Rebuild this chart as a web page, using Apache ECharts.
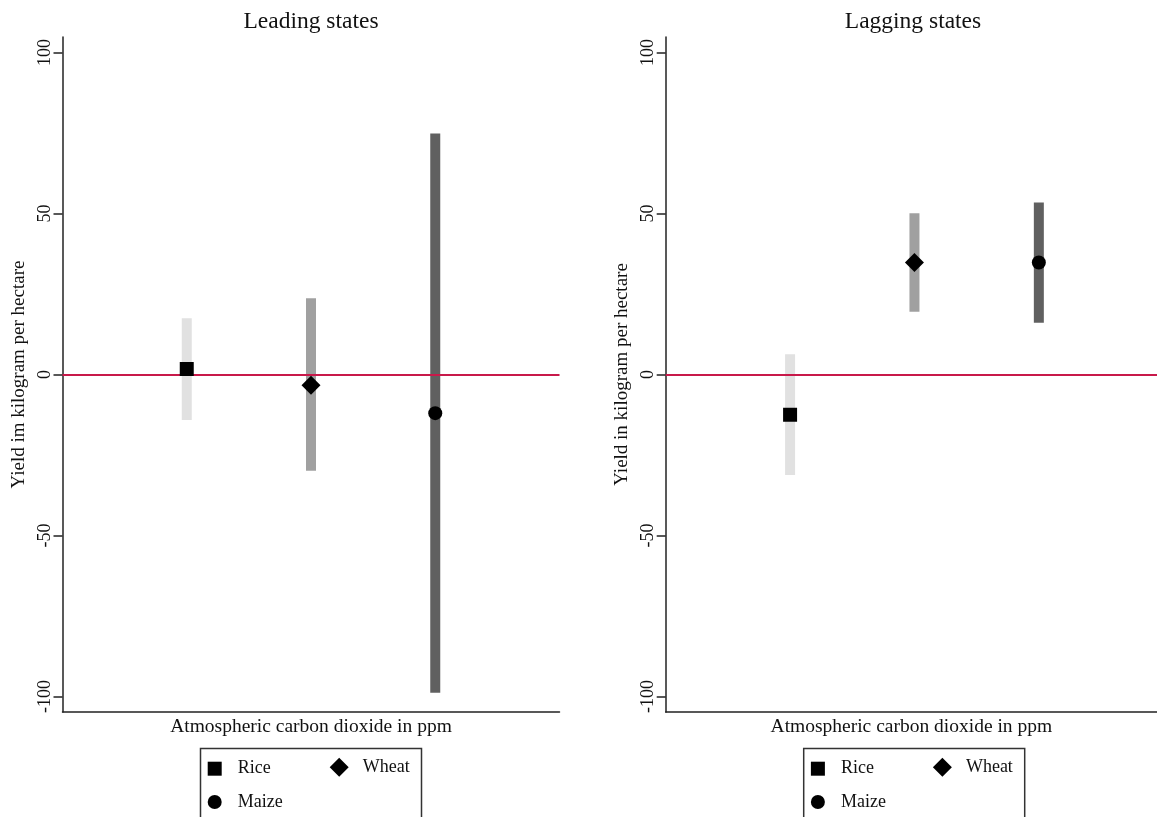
<!DOCTYPE html>
<html>
<head>
<meta charset="utf-8">
<script src="https://cdn.jsdelivr.net/npm/echarts@6/dist/echarts.min.js"></script>
<style>html,body{margin:0;padding:0;background:#fff}#c{width:1157px;height:817px}</style>
</head>
<body>
<div id="c"></div>
<script>
// ---- data ----
const categories = ['Rice', 'Wheat', 'Maize'];
const panelTitles = ['Leading states', 'Lagging states'];
const yNames = ['Yield im kilogram per hectare', 'Yield in kilogram per hectare'];
const xName = 'Atmospheric carbon dioxide in ppm';
const yTicks = [-100, -50, 0, 50, 100];
// Leading states
const leadEst = [1.7, -3.3, -12.0];
const leadLo = [-14.1, -29.9, -98.8];
const leadHi = [17.5, 23.7, 74.8];
// Lagging states
const lagEst = [-12.5, 34.8, 34.8];
const lagLo = [-31.2, 19.5, 16.1];
const lagHi = [6.3, 50.1, 53.4];

// ---- styles ----
const FONT = "'Liberation Serif', 'Times New Roman', 'DejaVu Serif', serif";
const barColors = ['#e1e1e1', '#a0a0a0', '#606060'];
const symbols = ['rect', 'diamond', 'circle'];
const symbolSizes = [14, 19, 14];
const refColor = '#c8194a';
const axisColor = '#222';

const chart = echarts.init(document.getElementById('c'), null, {renderer: 'canvas'});

// the right panel is cut by the page edge, so its x range ends a little before 4
const panels = [
  {est: leadEst, lo: leadLo, hi: leadHi, left: 62.5, width: 497, xMax: 4, titleX: 311},
  {est: lagEst, lo: lagLo, hi: lagHi, left: 665.7, width: 491.3, xMax: 3.95, titleX: 913}
];

const grids = [], xAxes = [], yAxes = [], series = [], titles = [], legends = [], graphics = [];

panels.forEach((p, gi) => {
  grids.push({left: p.left, top: 37, width: p.width, bottom: 105, containLabel: false});
  xAxes.push({
    type: 'value', gridIndex: gi, min: 0, max: p.xMax,
    name: xName, nameLocation: 'middle', nameGap: 5,
    nameTextStyle: {fontFamily: FONT, fontSize: 19.5, color: '#111', verticalAlign: 'top'},
    axisLine: {show: true, onZero: false, lineStyle: {color: axisColor, width: 1.5}},
    axisTick: {show: false}, axisLabel: {show: false}, splitLine: {show: false}
  });
  yAxes.push({
    type: 'value', gridIndex: gi, min: -104.8, max: 104.8,
    name: yNames[gi], nameLocation: 'middle', nameGap: 34, nameRotate: 90,
    nameTextStyle: {fontFamily: FONT, fontSize: 19, color: '#111'},
    axisLine: {show: true, lineStyle: {color: axisColor, width: 1.5}},
    axisTick: {show: true, length: 9, customValues: yTicks, lineStyle: {color: axisColor, width: 1.5}},
    axisLabel: {show: true, rotate: 90, margin: 8, customValues: yTicks,
      fontFamily: FONT, fontSize: 18, color: '#111'},
    splitLine: {show: false}
  });
  titles.push({
    text: panelTitles[gi], left: p.titleX, top: 10, textAlign: 'center', padding: 0,
    textStyle: {fontFamily: FONT, fontSize: 23.5, fontWeight: 'normal', color: '#111'}
  });

  // reference line at zero
  series.push({
    type: 'line', xAxisIndex: gi, yAxisIndex: gi, data: [], silent: true,
    markLine: {symbol: ['none', 'none'], silent: true, label: {show: false},
      lineStyle: {color: refColor, width: 2, type: 'solid'},
      data: [{yAxis: 0}]}
  });

  // confidence interval bars
  series.push({
    type: 'custom', xAxisIndex: gi, yAxisIndex: gi, silent: true,
    data: categories.map((c, i) => [i + 1, p.lo[i], p.hi[i], i]),
    renderItem: function (params, api) {
      const x = api.value(0), lo = api.value(1), hi = api.value(2), ci = api.value(3);
      const top = api.coord([x, hi]);
      const bot = api.coord([x, lo]);
      return {
        type: 'rect',
        shape: {x: top[0] - 5, y: top[1], width: 10, height: bot[1] - top[1]},
        style: {fill: barColors[ci]}
      };
    },
    z: 3
  });

  // point estimates
  categories.forEach((c, i) => {
    series.push({
      name: c, type: 'scatter', xAxisIndex: gi, yAxisIndex: gi,
      symbol: symbols[i], symbolSize: symbolSizes[i],
      itemStyle: {color: '#000', opacity: 1},
      data: [[i + 1, p.est[i]]], z: 5, silent: true
    });
  });

  // legend (one component per entry, placed inside a framed box)
  const bx = 198 + (p.left - 62.5);
  const legendBase = {
    orient: 'horizontal', padding: 0, selectedMode: false,
    textStyle: {fontFamily: FONT, fontSize: 18, color: '#111'}
  };
  legends.push(Object.assign({}, legendBase, {
    data: [{name: 'Rice', icon: 'rect'}], left: bx + 9.7, top: 759.7,
    itemWidth: 14, itemHeight: 14,
    textStyle: Object.assign({}, legendBase.textStyle, {padding: [0, 0, 0, 11]})
  }));
  legends.push(Object.assign({}, legendBase, {
    data: [{name: 'Wheat', icon: 'diamond'}], left: bx + 131.7, top: 757.7,
    itemWidth: 19, itemHeight: 19,
    textStyle: Object.assign({}, legendBase.textStyle, {padding: [0, 0, 0, 9]})
  }));
  legends.push(Object.assign({}, legendBase, {
    data: [{name: 'Maize', icon: 'circle'}], left: bx + 9.7, top: 793,
    itemWidth: 14, itemHeight: 14,
    textStyle: Object.assign({}, legendBase.textStyle, {padding: [0, 0, 0, 11]})
  }));
  graphics.push({
    type: 'rect', left: bx, top: 746,
    shape: {width: 221, height: 70},
    style: {fill: 'none', stroke: '#333', lineWidth: 1.5}, silent: true
  });
});

chart.setOption({
  backgroundColor: '#fff',
  animation: false,
  title: titles,
  grid: grids,
  xAxis: xAxes,
  yAxis: yAxes,
  legend: legends,
  graphic: graphics,
  series: series
});
</script>
</body>
</html>
